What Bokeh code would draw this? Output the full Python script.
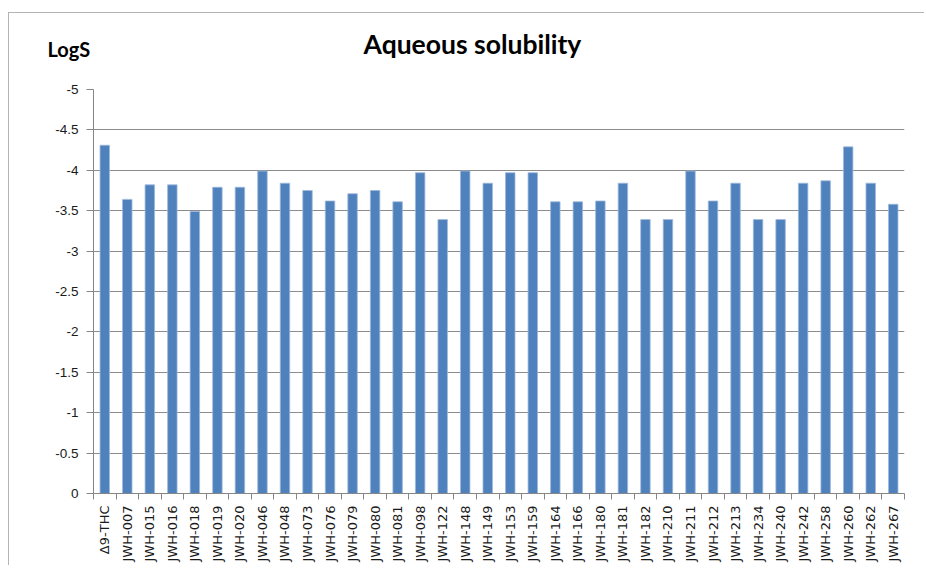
from math import pi
from bokeh.plotting import figure
from bokeh.layouts import column
from bokeh.models import (Range1d, FixedTicker, LinearAxis, Label, ColumnDataSource)
from bokeh.embed import file_html
from bokeh.resources import INLINE

categories = ["Δ9-THC", "JWH-007", "JWH-015", "JWH-016", "JWH-018", "JWH-019",
              "JWH-020", "JWH-046", "JWH-048", "JWH-073", "JWH-076", "JWH-079",
              "JWH-080", "JWH-081", "JWH-098", "JWH-122", "JWH-148", "JWH-149",
              "JWH-153", "JWH-159", "JWH-164", "JWH-166", "JWH-180", "JWH-181",
              "JWH-182", "JWH-210", "JWH-211", "JWH-212", "JWH-213", "JWH-234",
              "JWH-240", "JWH-242", "JWH-258", "JWH-260", "JWH-262", "JWH-267"]
logS = [-4.31, -3.64, -3.82, -3.82, -3.49, -3.79, -3.79, -3.99, -3.84, -3.75,
        -3.62, -3.71, -3.75, -3.61, -3.97, -3.39, -3.99, -3.84,
        -3.97, -3.97, -3.61, -3.61, -3.62, -3.84, -3.39, -3.39, -3.99, -3.62,
        -3.84, -3.39, -3.39, -3.84, -3.87, -4.29, -3.84, -3.58]
y_ticks = [0, -0.5, -1, -1.5, -2, -2.5, -3, -3.5, -4, -4.5, -5]
y_tick_labels = ["0", "-0.5", "-1", "-1.5", "-2", "-2.5", "-3", "-3.5", "-4", "-4.5", "-5"]
title_text = "Aqueous solubility"
y_title = "LogS"

W = 916
HEAD_H = 71

# ---- header strip holding the chart title and the y-axis caption ----
head = figure(width=W, height=HEAD_H, output_backend="svg", toolbar_location=None,
              x_range=Range1d(0, W), y_range=Range1d(HEAD_H, 0),
              x_axis_location=None, y_axis_location=None,
              min_border_left=0, min_border_right=0, min_border_top=0,
              min_border_bottom=0)
head.frame_align = False
head.styles = {"border-top": "1px solid #b4b4b4", "border-left": "1px solid #b4b4b4"}
head.outline_line_color = None
head.xgrid.grid_line_color = None
head.ygrid.grid_line_color = None
head.add_layout(Label(x=354, y=30, text=title_text, text_font="Lato",
                      text_font_style="bold", text_font_size="26.5px",
                      text_baseline="middle", text_color="#000000"))
head.add_layout(Label(x=38, y=35, text=y_title, text_font="Lato",
                      text_font_style="bold", text_font_size="20px",
                      text_baseline="middle", text_color="#000000"))

# ---- bar chart ----
n = len(categories)
centers = [i + 0.5 for i in range(n)]
boundaries = list(range(n + 1))
source = ColumnDataSource(dict(x=centers, cat=categories, val=logS))

p = figure(width=W, height=482, output_backend="svg", toolbar_location=None,
           x_range=Range1d(0, n), y_range=Range1d(0, -5), x_axis_location=None,
           min_border_left=84, min_border_right=21, min_border_top=6,
           min_border_bottom=72)
p.frame_align = False
p.styles = {"border-left": "1px solid #b4b4b4"}
p.outline_line_color = None
p.background_fill_color = "white"

p.vbar(x="x", top="val", bottom=0, width=0.42, source=source,
       fill_color="#4F81BD", line_color="#9DB9DC", line_width=0.8)

ya = p.yaxis[0]
ya.ticker = FixedTicker(ticks=y_ticks)
ya.major_label_overrides = {t: l for t, l in zip(y_ticks, y_tick_labels)}
ya.axis_line_color = "#868686"
ya.major_tick_line_color = "#868686"
ya.major_tick_out = 7
ya.major_tick_in = 0
ya.minor_tick_line_color = None
ya.major_label_text_font = "Liberation Sans"
ya.major_label_text_font_size = "13.5px"
ya.major_label_text_color = "#1a1a1a"
ya.major_label_standoff = 8

p.ygrid.ticker = FixedTicker(ticks=y_ticks)
p.ygrid.grid_line_color = "#8c8c8c"
p.ygrid.grid_line_width = 1
p.xgrid.grid_line_color = None

cat_axis = LinearAxis(ticker=FixedTicker(ticks=centers, minor_ticks=boundaries),
                      major_label_overrides={c: name for c, name in zip(centers, categories)},
                      axis_line_color="#868686", major_tick_line_color=None,
                      minor_tick_line_color="#868686", minor_tick_out=6, minor_tick_in=0,
                      major_label_orientation=pi / 2, major_label_standoff=6,
                      major_label_text_font="DejaVu Sans",
                      major_label_text_font_size="13px",
                      major_label_text_color="#1a1a1a")
p.add_layout(cat_axis, "below")

layout = column(head, p, spacing=0)
layout.styles = {"margin-top": "12px", "margin-left": "8px"}

open("out.html", "w").write(file_html(layout, INLINE))
